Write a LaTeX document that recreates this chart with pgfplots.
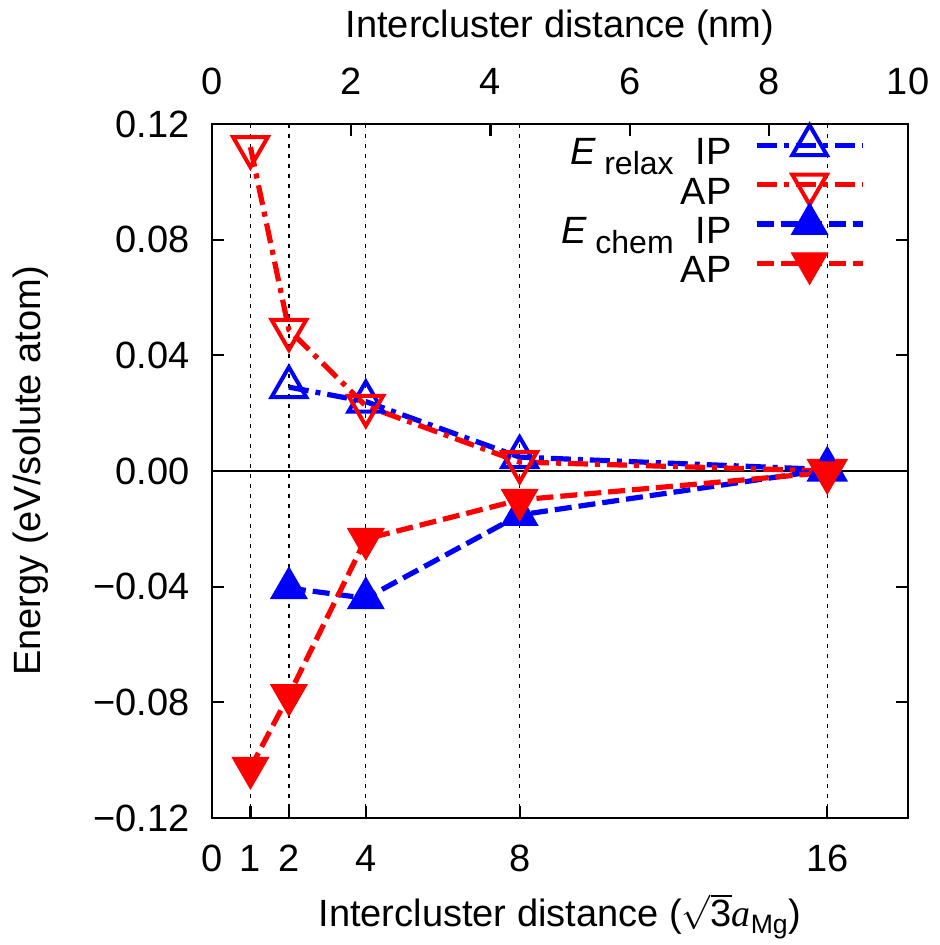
\documentclass[border=0pt]{standalone}
\usepackage{fontspec}
\setmainfont{Liberation Sans}
\newfontfamily\seriffont{Liberation Serif}
\usepackage{pgfplots}
\pgfplotsset{compat=1.18}
\definecolor{gblue}{RGB}{0,0,255}
\definecolor{gred}{RGB}{255,0,0}
\begin{document}
\fontsize{19}{22}\selectfont
\begin{tikzpicture}
\useasboundingbox (-106pt,-63.5pt) rectangle (363.5pt,409pt);
\begin{axis}[
  scale only axis, width=348pt, height=347pt,
  xmin=0, xmax=18.1, ymin=-0.12, ymax=0.12,
  xtick={0,1,2,4,8,16}, xtick pos=bottom,
  ytick={-0.12,-0.08,-0.04,0,0.04,0.08,0.12},
  yticklabels={−0.12,−0.08,−0.04,0.00,0.04,0.08,0.12},
  ytick pos=both,
  tick align=inside, major tick length=6pt,
  /pgf/number format/assume math mode=true,
  axis line style={line width=1.1pt},
  every tick/.style={black, line width=1.1pt},
  xmajorgrids, grid style={black, line width=0.6pt, dash pattern=on 2pt off 3pt},
  xticklabel style={anchor=base, inner sep=0pt, yshift=-27pt},
  yticklabel style={anchor=east, inner sep=0pt, xshift=-11pt},
  xlabel={Intercluster distance (\ensuremath{\sqrt{\mbox{3}}}{\seriffont\itshape a}\textsubscript{Mg})},
  ylabel={Energy (eV/solute atom)},
  xlabel style={at={(axis description cs:0.5,-0.157)}, anchor=base, inner sep=0pt},
  ylabel style={at={(axis description cs:-0.247,0.5)}, anchor=base, inner sep=0pt},
  legend style={draw=none, fill=none, at={(rel axis cs:1,1)}, anchor=north east,
    xshift=-22.5pt, yshift=-3pt, inner sep=0pt, row sep=-3.3pt, column sep=12.5pt,
    nodes={inner sep=0pt, text height=13.4pt, text depth=5.8pt}},
  legend cell align=right,
  legend plot pos=right,
  legend image code/.code={\path[draw=none, fill=none, use as bounding box] (0pt,-5.8pt) rectangle (53pt,13.4pt);
    \draw[mark repeat=2,mark phase=2] plot coordinates {(0pt,6pt)(26.5pt,6pt)(53pt,6pt)};},
]
\addplot[black, line width=1pt, forget plot] coordinates {(0,0)(18.1,0)};
\addplot[gblue, line width=2.6pt, dash pattern=on 10pt off 3.5pt on 2.5pt off 3.5pt,
  mark=triangle, mark size=10pt, mark options={solid, fill=white, line width=2pt}]
  coordinates {(2,0.029)(4,0.024)(8,0.0048)(16,0.0005)};
\addlegendentry{\textit{E}\hspace{4pt}\raisebox{-5pt}{\fontsize{16}{16}\selectfont relax}\hspace{11pt}IP}
\addplot[gred, line width=2.6pt, dash pattern=on 10pt off 3.5pt on 2.5pt off 3.5pt,
  mark=triangle, mark size=10pt, mark options={solid, fill=white, line width=2pt, rotate=180}]
  coordinates {(1,0.112)(2,0.0488)(4,0.0225)(8,0.0031)(16,0.0)};
\addlegendentry{AP}
\addplot[gblue, line width=2.6pt, dash pattern=on 8.5pt off 3.5pt,
  mark=triangle*, mark size=10.5pt, mark options={solid, line width=0.5pt}]
  coordinates {(2,-0.0405)(4,-0.044)(8,-0.0152)(16,0.0005)};
\addlegendentry{\textit{E}\hspace{4pt}\raisebox{-5pt}{\fontsize{16}{16}\selectfont chem}\hspace{11pt}IP}
\addplot[gred, line width=2.6pt, dash pattern=on 8.5pt off 3.5pt,
  mark=triangle*, mark size=10.5pt, mark options={solid, line width=0.5pt, rotate=180}]
  coordinates {(1,-0.1027)(2,-0.0775)(4,-0.0235)(8,-0.010)(16,-0.0005)};
\addlegendentry{AP}
\end{axis}
\begin{axis}[
  scale only axis, width=348pt, height=347pt,
  xmin=0, xmax=10, ymin=-0.12, ymax=0.12,
  axis x line*=top, axis y line=none,
  xtick={0,2,4,6,8,10},
  tick align=inside, major tick length=6pt,
  /pgf/number format/assume math mode=true,
  axis line style={line width=1.1pt, -},
  every tick/.style={black, line width=1.1pt},
  xticklabel style={anchor=base, inner sep=0pt, yshift=14.5pt},
  xlabel={Intercluster distance (nm)},
  xlabel style={at={(axis description cs:0.5,1.124)}, anchor=base, inner sep=0pt},
]
\end{axis}
\end{tikzpicture}
\end{document}
